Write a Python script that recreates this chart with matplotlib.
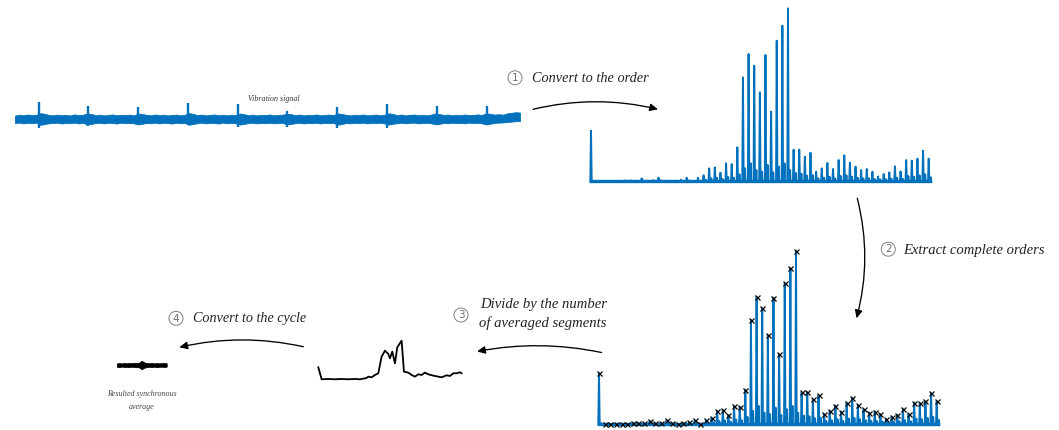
import numpy as np
import matplotlib
matplotlib.use("Agg")
import matplotlib.pyplot as plt
from matplotlib.patches import FancyArrowPatch, Circle

# ---------------- data ----------------
# vibration signal: band envelope (upper / lower) + impulsive spikes
vib_upper = [3.4, 4.3, 3.7, 4.5, 3.9, 4.2, 5.8, 5.2, 4.0, 3.6,
             4.4, 3.8, 4.1, 3.5, 4.6, 3.9, 4.2, 5.6, 5.0, 3.8,
             4.3, 3.6, 4.0, 4.5, 3.7, 4.2, 3.9, 4.4, 3.6, 5.4,
             5.0, 4.1, 3.7, 4.5, 3.8, 4.3, 3.6, 4.0, 4.4, 3.7,
             4.2, 5.9, 5.1, 3.9, 4.4, 3.6, 4.1, 4.5, 3.8, 4.2,
             3.7, 4.3, 4.0, 5.5, 4.8, 3.8, 4.4, 3.6, 4.2, 3.9,
             4.5, 3.7, 4.1, 4.3, 5.0, 4.9, 3.8, 4.4, 3.6, 4.2,
             3.9, 4.5, 3.7, 4.1, 4.4, 3.8, 5.6, 5.0, 4.2, 3.6,
             4.3, 3.9, 4.5, 3.7, 4.0, 4.4, 3.8, 4.2, 5.7, 5.1,
             3.9, 4.4, 3.6, 4.1, 4.5, 3.8, 4.2, 3.7, 4.3, 5.5,
             5.0, 4.0, 4.4, 3.7, 4.2, 3.9, 4.5, 3.8, 4.1, 4.6,
             4.0, 5.6, 5.2, 4.4, 4.8, 4.3, 5.6, 6.2, 6.8, 6.4]
vib_lower = [-4.0, -3.6, -4.4, -3.8, -4.2, -3.7, -5.9, -5.0, -4.3, -3.9,
             -3.7, -4.5, -3.9, -4.2, -3.6, -4.4, -3.8, -5.5, -4.9, -4.1,
             -3.8, -4.4, -3.7, -4.1, -4.5, -3.6, -4.2, -3.9, -4.3, -5.4,
             -4.8, -3.9, -4.3, -3.6, -4.4, -3.8, -4.1, -4.5, -3.7, -4.2,
             -3.9, -5.8, -5.0, -4.2, -3.7, -4.4, -3.8, -4.1, -4.5, -3.6,
             -4.3, -3.9, -4.2, -5.6, -4.9, -4.1, -3.7, -4.4, -3.9, -4.2,
             -3.7, -4.3, -4.0, -3.8, -5.3, -5.0, -4.2, -3.8, -4.4, -3.9,
             -4.1, -3.7, -4.4, -3.9, -4.2, -3.8, -5.7, -5.1, -4.0, -4.3,
             -3.8, -4.2, -3.6, -4.4, -3.9, -4.1, -3.7, -4.3, -5.6, -4.8,
             -4.2, -3.7, -4.3, -3.9, -3.6, -4.4, -4.0, -3.8, -4.2, -5.3,
             -4.9, -3.9, -4.2, -3.7, -4.1, -3.8, -4.3, -3.6, -4.0, -3.8,
             -4.2, -5.4, -4.8, -3.9, -3.6, -3.4, -3.0, -2.6, -2.2, -2.0]
spike_time = [0.48, 1.45, 2.44, 3.43, 4.41, 5.39, 6.38, 7.36, 8.35, 9.34]
spike_up = [17.3, 13.3, 12.3, 16.3, 14.7, 8.0, 11.7, 15.0, 13.0, 13.0]
spike_down = [-9.3, -7.0, -6.0, -6.0, -8.0, -8.0, -9.3, -8.5, -6.0, -5.7]

# order spectrum: amplitude at each integer order (0..60) and adjacent sideband
orders = list(range(61))
order_amp = [153, 0, 1, 2, 1, 0, 4, 4, 3, 10, 3, 5, 12, 3, 1, 3, 6, 12, 2, 12,
             19, 40, 43, 27, 55, 53, 103, 313, 383, 348, 268, 380, 210, 423, 468, 520,
             96, 96, 75, 87, 30, 40, 56, 38, 65, 79, 57, 45, 35, 38, 30, 16, 23, 28,
             46, 31, 65, 63, 69, 93, 69]
side_amp = [3, 2, 1, 2, 2, 1, 3, 2, 2, 4, 2, 3, 4, 2, 1, 3, 3, 4, 2, 3,
            6, 10, 12, 8, 14, 12, 22, 40, 55, 35, 30, 50, 28, 45, 55, 35, 26, 24, 18, 20,
            10, 12, 15, 10, 17, 19, 15, 12, 10, 10, 8, 7, 8, 9, 12, 9, 17, 15, 19, 22, 13]

# averaged segments curve
avg_pos = [0, 10, 30, 50, 70, 90, 110, 125, 135, 145, 150, 160, 170, 180, 190, 200, 210,
           215, 222, 230, 237, 250, 257, 270, 280, 290, 300, 310, 320, 330, 345, 360,
           370, 385, 395, 405, 415, 425, 430]
avg_amp = [36, 0, 1, 0, 1, 0, 1, 0, 2, 4, 8, 6, 13, 18, 68, 86, 76,
           63, 83, 48, 96, 116, 23, 20, 13, 8, 15, 13, 20, 15, 11, 8,
           6, 12, 10, 18, 18, 21, 18]

# resulted synchronous average
sync_upper = [1.5, 1.9, 1.6, 2.0, 1.7, 1.9, 1.8, 2.1, 2.0, 2.3, 4.2, 2.6, 1.9, 1.7, 2.0, 1.6, 1.9, 1.7, 1.8, 2.0, 1.6]
sync_lower = [-1.7, -2.0, -1.6, -1.9, -1.8, -2.0, -1.7, -1.9, -2.1, -2.4, -4.2, -2.7, -2.1, -1.8, -1.9, -1.7, -2.0, -1.8, -1.7, -1.9, -1.6]

steps = ["Convert to the order", "Extract complete orders",
         "Divide by the number", "of averaged segments", "Convert to the cycle"]

BLUE = "#0072BD"
W, H = 1059, 430
fig = plt.figure(figsize=(W / 100, H / 100), dpi=100)


def box(x0, y0, x1, y1):
    ax = fig.add_axes([x0 / W, 1 - y1 / H, (x1 - x0) / W, (y1 - y0) / H])
    ax.axis("off")
    return ax


# ---- vibration signal ----
ax = box(15, 95, 520, 135)
t = np.linspace(0, 10, len(vib_upper))
ax.fill_between(t, vib_lower, vib_upper, color=BLUE, lw=0.6, edgecolor=BLUE)
ax.vlines(spike_time, spike_down, spike_up, color=BLUE, lw=1.7)
ax.set_xlim(0, 10)
ax.set_ylim(-16, 24)
ax.text(0.513, 0.9, "Vibration signal", transform=ax.transAxes, ha="center", va="center",
        fontsize=5.7, style="italic", family="Liberation Serif", color="#333")


# ---- spectra ----
def spectrum_xy(k_list, a_list, s_list):
    xs, ys = [], []
    for k, a, s in zip(k_list, a_list, s_list):
        xs += [k - 0.12, k, k + 0.12, k + 0.3, k + 0.38, k + 0.46]
        ys += [0, a, 0, 0, s, 0]
    return xs, ys


sx, sy = spectrum_xy(orders, order_amp, side_amp)

ax1 = box(591, 1.7, 928.7, 181.7)
ax1.plot(sx, sy, color=BLUE, lw=1.4, clip_on=False)
ax1.plot([orders[0], orders[-1] + 0.3], [2, 2], color=BLUE, lw=2.4, clip_on=False)
ax1.set_xlim(0, 60)
ax1.set_ylim(0, 540)

ax2 = box(599, 244.3, 936.7, 424.3)
ax2.plot(sx, sy, color=BLUE, lw=1.4, clip_on=False)
ax2.plot([orders[0], orders[-1] + 0.3], [2, 2], color=BLUE, lw=2.4, clip_on=False)
ax2.plot(orders, order_amp, "x", color="black", ms=3.6, mew=0.9, clip_on=False)
ax2.set_xlim(0, 60)
ax2.set_ylim(0, 540)

# ---- averaged segments ----
ax3 = box(318.3, 339.3, 461.6, 379.3)
ax3.plot(avg_pos, avg_amp, color="black", lw=1.3, clip_on=False)
ax3.set_xlim(0, 430)
ax3.set_ylim(0, 120)

# ---- synchronous average ----
ax4 = box(116.7, 355, 166.7, 375)
sp = np.linspace(0, 50, len(sync_upper))
ax4.fill_between(sp, sync_lower, sync_upper, color="black", lw=0.6, edgecolor="black")
ax4.set_xlim(0, 50)
ax4.set_ylim(-10, 10)

# ---- overlay: arrows and labels ----
ov = fig.add_axes([0, 0, 1, 1])
ov.set_xlim(0, W)
ov.set_ylim(H, 0)
ov.axis("off")
ov.patch.set_alpha(0)


def arrow(p0, p1, rad):
    ov.add_patch(FancyArrowPatch(p0, p1, connectionstyle=f"arc3,rad={rad}",
                                 arrowstyle="-|>,head_length=0.6,head_width=0.28",
                                 mutation_scale=8, color="black", lw=0.95,
                                 shrinkA=0, shrinkB=0))


arrow((533, 109.3), (658, 109.3), -0.12)
arrow((857.3, 198.3), (856.5, 318.3), -0.13)
arrow((601.5, 352.5), (477, 351.5), 0.1)
arrow((303.3, 346.7), (179.3, 347.3), 0.113)


def circled(num, cx, cy):
    ov.add_patch(Circle((cx, cy), 7.0, fill=False, ec="#808080", lw=0.7))
    ov.text(cx, cy + 0.3, str(num), ha="center", va="center", fontsize=7.5,
            color="#707070", family="DejaVu Sans")


def label(tx, ty, txt, size=10.5):
    ov.text(tx, ty, txt, ha="left", va="baseline", fontsize=size, style="italic",
            family="Liberation Serif", color="#222")


circled(1, 515, 77.8)
label(531.7, 82.5, steps[0], 10.3)
circled(2, 888.3, 249.2)
label(903.5, 254, steps[1], 10.5)
circled(3, 461, 315)
label(480, 308.3, steps[2], 10.5)
label(479.3, 326.7, steps[3], 10.5)
circled(4, 176, 318.3)
label(192.7, 322.3, steps[4], 10.2)

ov.text(141.7, 394.3, "Resulted synchronous", ha="center", va="center", fontsize=5.8,
        style="italic", family="Liberation Serif", color="#444")
ov.text(141.7, 406.7, "average", ha="center", va="center", fontsize=5.8,
        style="italic", family="Liberation Serif", color="#444")

fig.savefig("out.png", dpi=100)
